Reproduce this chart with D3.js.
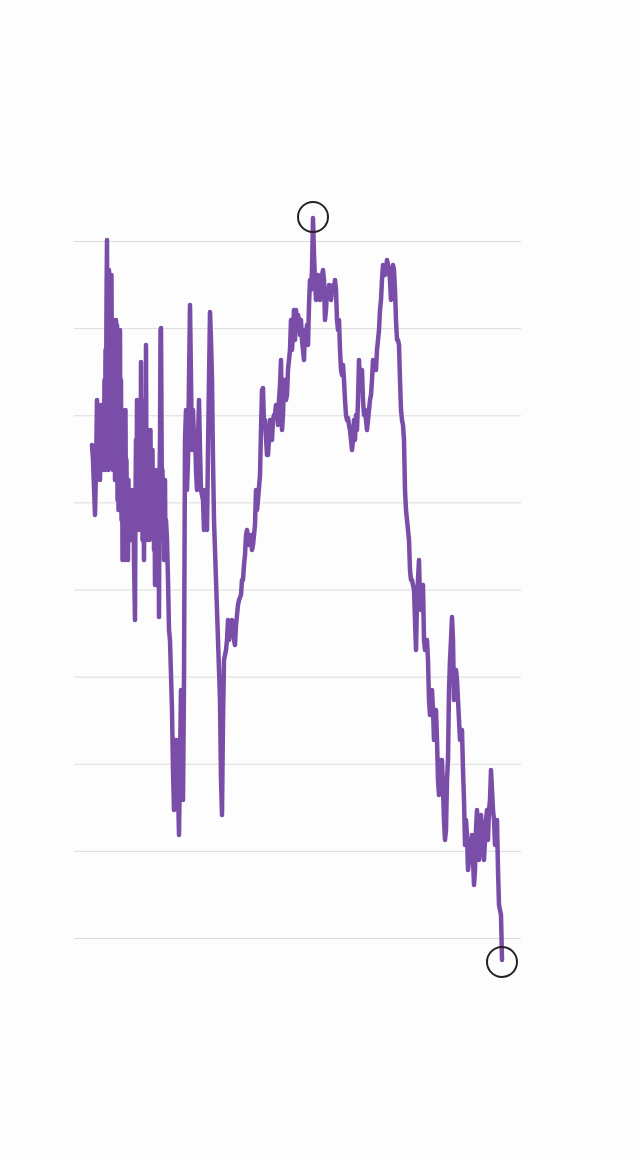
<!DOCTYPE html>
<html lang="en">
<head>
<meta charset="utf-8">
<title>Line chart</title>
<script src="https://cdn.jsdelivr.net/npm/d3@7"></script>
<style>
  html, body { margin: 0; padding: 0; background: #fdfdfd; }
  .grid line { stroke: #dcdcdc; stroke-width: 1; }
  .grid .domain { display: none; }
</style>
</head>
<body>
<div id="chart"></div>
<script>
// day offset from start of the period
const days = [18,19,21,22,23,25,26,27,29,
  30,30.5,31,31.5,32,32.5,33,33.5,34,34.5,35,35.5,36,36.5,37,37.5,38,38.5,39,39.5,40,40.5,41,41.5,42,42.5,43,43.5,44,44.5,45,45.5,46,46.5,47,47.5,48,48.5,49,49.5,50,50.5,51,51.5,52,52.5,53,53.5,54,54.5,55,55.5,56,57,57.5,58,59,59.5,60,61,61.5,62,62.5,63,63.5,64,64.5,65,65.5,66,66.5,67,67.5,68,68.5,69,69.5,70,70.5,71,71.5,72,72.5,73,73.5,74,74.5,75,75.5,76,76.5,77,77.5,78,78.5,79,79.5,80,80.5,81,81.5,82,82.5,83,83.5,84,84.5,85,85.5,86,86.5,87,87.5,88,88.5,89,89.5,90,90.5,91,91.5,92,93,94,95,96,
  98,99,100,101,102,103,104,105,106,107,108,109,110,111,112,113,114,115,116,117,118,119,120,121,122,123,124,125,126,127,129,130,131,132,133,134,135,136,137,138,139,140,142,144,146,147,148,149,150,151,152,153,154,155,156,158,160,161,162,163,164,165,167,168,169,170,171,172,173,175,176,177,178,179,181,182,183,184,186,187,188,189,190,191,193,194,195,196,198,199,200,201,202,203,204,205,206,207,208,209,210,211,212,213,214,216,217,218,219,220,221,222,223,224,225,226,227,228,229,230,231,232,233,234,235,236,237,238,239,240,241,242,243,244,245,246,247,248,249,250,251,252,253,254,255,256,257,258,259,260,261,262,263,264,265,266,267,268,269,270,271,272,273,274,275,276,277,278,279,280,281,282,283,284,285,286,288,289,290,291,292,293,294,295,296,297,298,299,300,301,302,303,304,305,306,307,308,309,310,311,312,313,314,315,316,317,318,319,320,321,322,323,324,325,326,327,328,329,330,331,332,333,334,335,336,337,338,339,340,341,342,343,344,345,346,347,348,349,350,351,352,353,354,355,356,357,358,359,360,361,362,363,364,365,366,367,368,369,370,371,372,373,374,375,376,377,378,379,380,381,382,383,384,385,386,387,388,389,390,391,392,393,394,395,396,397,398,399,400,401,402,403,404,405,406,407,408,409,410,411,412,413,414,415,416,417,418,419,420,421,422,423,424,425,426,427,428]

const level = [493,478,423,468,538,488,458,533,468,
  498,558,468,588,518,638,698,518,638,468,668,483,658,608,488,663,508,588,468,618,508,598,458,558,618,478,613,438,538,428,518,433,608,428,558,418,528,378,518,398,508,458,378,528,408,478,393,448,378,458,398,448,428,398,438,448,418,438,378,318,438,498,408,538,418,468,408,498,438,518,418,576,428,488,398,508,438,378,498,538,418,593,438,498,398,508,428,498,398,478,508,418,468,438,488,418,468,388,448,353,468,378,458,398,438,418,468,321,458,498,608,610,518,418,468,398,458,378,438,458,378,418,398,358,308,298,
  228,168,128,198,138,198,148,103,178,248,178,138,258,498,528,448,478,558,633,558,488,528,498,508,468,448,498,538,488,448,438,408,448,418,408,488,558,626,598,558,478,418,358,298,238,158,123,218,278,283,288,298,318,298,313,318,298,293,313,323,333,338,343,358,358,373,383,403,408,393,398,403,388,393,413,448,428,438,463,508,548,550,513,518,483,483,498,518,498,518,523,523,533,528,513,538,553,578,508,523,558,558,538,543,568,588,618,588,608,628,598,628,618,623,618,603,618,598,588,578,608,603,613,593,633,658,648,668,720,683,658,638,648,663,653,638,653,663,668,658,618,628,648,643,653,648,638,648,653,648,658,648,618,608,618,588,568,563,573,558,538,523,518,520,513,508,498,488,498,518,498,523,508,538,578,553,568,538,523,528,518,508,518,528,538,543,558,578,568,573,568,588,598,608,628,638,658,673,663,663,668,678,673,668,658,638,663,673,668,648,618,598,598,593,558,528,518,513,498,448,428,418,408,398,368,358,358,353,348,318,288,338,358,378,338,328,348,353,298,288,298,298,278,238,223,238,248,228,198,223,228,198,158,143,148,178,178,148,118,98,108,158,178,248,278,298,321,298,238,248,268,258,238,218,198,203,208,168,138,93,118,103,68,78,98,88,103,78,53,68,108,128,98,78,118,123,108,88,78,98,118,128,98,128,138,168,148,128,118,93,113,118,68,33,28,23,-22]

const gridLevels = d3.range(9).map(i => i * 697 / 8)

const width = 640, height = 1158
const margin = { top: 241, right: 119, bottom: 220, left: 74 }

const data = days.map((d, i) => ({ day: d, value: level[i] }))

const svg = d3.select("#chart").append("svg")
    .attr("width", width)
    .attr("height", height)

svg.append("rect")
    .attr("width", width)
    .attr("height", height)
    .attr("fill", "#fdfdfd")

const x = d3.scaleLinear()
    .domain([0, 447])
    .range([margin.left, width - margin.right])

const y = d3.scaleLinear()
    .domain([0, 697])
    .range([height - margin.bottom, margin.top])

// horizontal grid lines
svg.append("g")
    .attr("class", "grid")
    .attr("transform", "translate(" + margin.left + ",0)")
    .call(d3.axisRight(y)
        .tickValues(gridLevels)
        .tickSize(width - margin.left - margin.right)
        .tickFormat(""))

const line = d3.line()
    .x(d => x(d.day))
    .y(d => y(d.value))

svg.append("path")
    .datum(data)
    .attr("fill", "none")
    .attr("stroke", "#7a4ea8")
    .attr("stroke-width", 4.5)
    .attr("stroke-linejoin", "round")
    .attr("stroke-linecap", "round")
    .attr("d", line)

// mark the high point and the latest value
const maxPoint = data.reduce((a, b) => (b.value > a.value ? b : a))
const lastPoint = data[data.length - 1]

svg.selectAll(".marker")
    .data([maxPoint, lastPoint])
    .join("circle")
    .attr("class", "marker")
    .attr("cx", d => x(d.day))
    .attr("cy", d => y(d.value) - (d === maxPoint ? 1 : -2))
    .attr("r", 15)
    .attr("fill", "none")
    .attr("stroke", "#222")
    .attr("stroke-width", 2)
</script>
</body>
</html>
